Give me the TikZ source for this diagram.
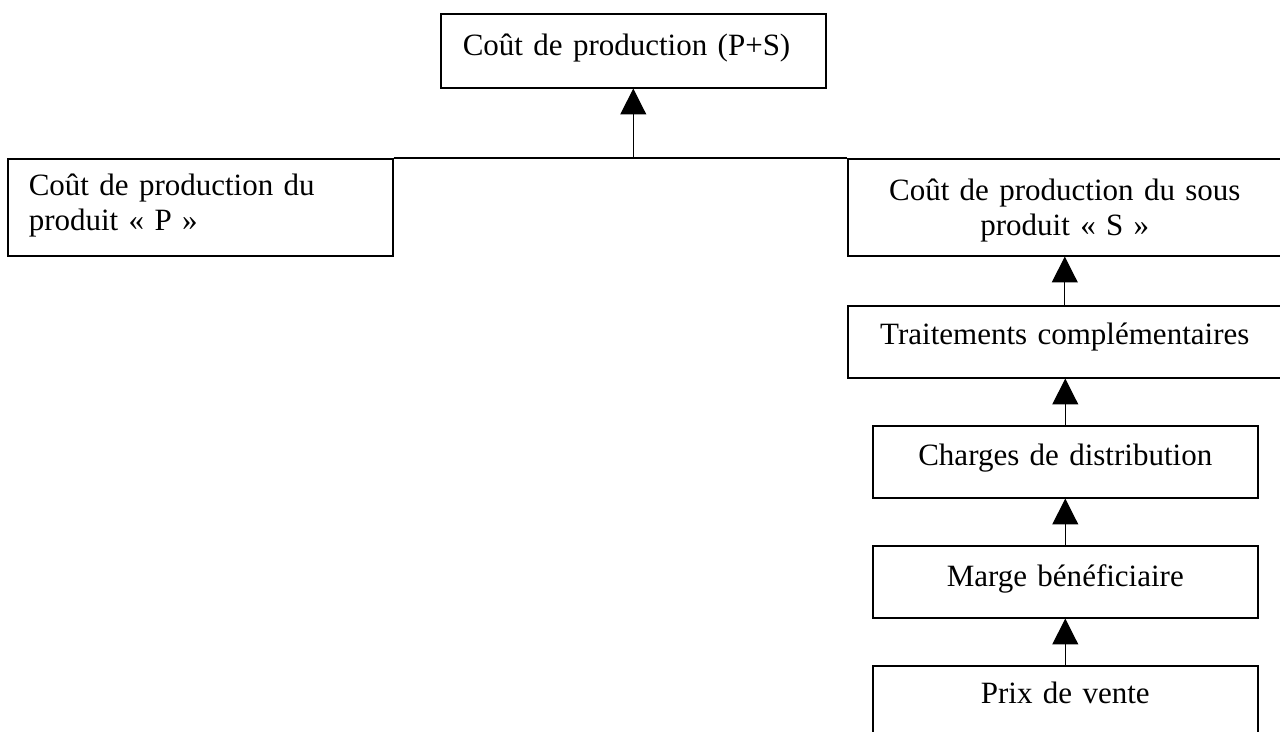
\documentclass[tikz,border=0pt]{standalone}
\usepackage{fontspec}
\setmainfont{Liberation Serif}
\usetikzlibrary{arrows.meta}

\newcommand{\pix}{0.387pt}

\tikzset{
	boite/.style={draw, line width=0.6pt, inner sep=0pt, anchor=north west,
		font=\fontsize{12}{13.6}\selectfont},
	fleche/.style={-{Triangle[length=10pt, width=10pt]}, line width=0.45pt},
}

\begin{document}
\begin{tikzpicture}[x=0.387pt, y=-0.387pt]
		\useasboundingbox (0, 0) rectangle (1280, 731);
		\clip (0, 0) rectangle (1280, 731);
	
		% cout global
		\node[boite, minimum width=385*\pix, text width=341*\pix, align=left,
			text height=42*\pix, text depth=32*\pix] (prod) at (440, 13) {Coût de production (P+S)};
	
		% les deux produits
		\node[boite, minimum width=385*\pix, text width=343*\pix, align=left,
			text height=37*\pix, text depth=60*\pix] (prodP) at (7, 158) {Coût de production du\\produit «~P~»};
		\node[boite, minimum width=434*\pix, text width=434*\pix, align=center,
			text height=42*\pix, text depth=55*\pix] (prodS) at (847, 158) {Coût de production du sous\\produit «~S~»};
	
		% chaine du sous produit
		\node[boite, minimum width=434*\pix, text width=434*\pix, align=center,
			text height=39*\pix, text depth=33*\pix] (trait) at (847, 305) {Traitements complémentaires};
		\node[boite, minimum width=385*\pix, text width=385*\pix, align=center,
			text height=40*\pix, text depth=32*\pix] (charges) at (872, 425) {Charges de distribution};
		\node[boite, minimum width=385*\pix, text width=385*\pix, align=center,
			text height=41*\pix, text depth=31*\pix] (marge) at (872, 545) {Marge bénéficiaire};
		\node[boite, minimum width=385*\pix, text width=385*\pix, align=center,
			text height=38*\pix, text depth=40*\pix] (prix) at (872, 665) {Prix de vente};
	
		\coordinate (jonction) at (prod.south |- prodP.north);
		\draw[line width=0.45pt] (prodP.north east) -- (prodS.north west);
		\draw[fleche] (jonction) -- (prod.south);
	
		\draw[fleche] (trait.north) -- (prodS.south -| trait.north);
		\draw[fleche] (charges.north) -- (trait.south -| charges.north);
		\draw[fleche] (marge.north) -- (charges.south);
		\draw[fleche] (prix.north) -- (marge.south);
	\end{tikzpicture}
\end{document}
